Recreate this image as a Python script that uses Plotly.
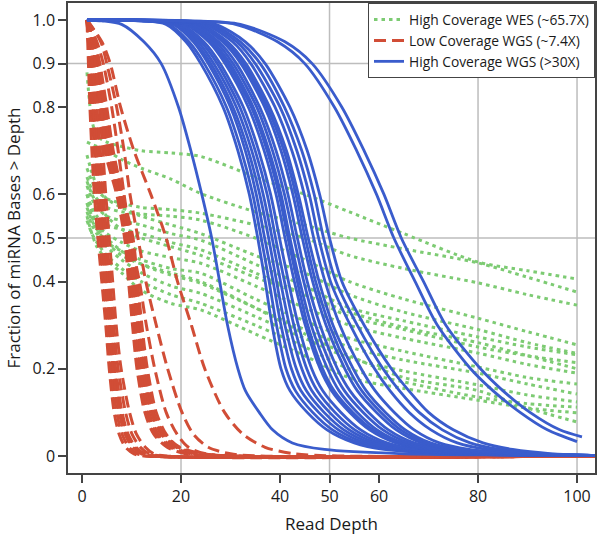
import plotly.graph_objects as go

# ---------------- data ----------------
# High Coverage WES: fraction at fixed read depths
wes_depth = [1, 2, 3, 5, 8, 12, 18, 24, 35, 45, 54, 65, 80, 90, 100]
wes_fraction = [
    [0.88, 0.77, 0.735, 0.72, 0.71, 0.70, 0.695, 0.687, 0.64, 0.60, 0.56, 0.51, 0.445, 0.425, 0.406],
    [0.72, 0.715, 0.71, 0.70, 0.68, 0.66, 0.635, 0.602, 0.56, 0.53, 0.50, 0.475, 0.443, 0.41, 0.376],
    [0.66, 0.63, 0.61, 0.59, 0.58, 0.57, 0.565, 0.557, 0.53, 0.50, 0.46, 0.43, 0.397, 0.37, 0.346],
    [0.64, 0.61, 0.59, 0.57, 0.56, 0.555, 0.55, 0.541, 0.50, 0.45, 0.40, 0.36, 0.316, 0.285, 0.255],
    [0.62, 0.59, 0.57, 0.55, 0.54, 0.53, 0.51, 0.495, 0.44, 0.39, 0.34, 0.31, 0.273, 0.25, 0.232],
    [0.60, 0.57, 0.55, 0.53, 0.52, 0.51, 0.49, 0.473, 0.42, 0.37, 0.32, 0.29, 0.25, 0.23, 0.214],
    [0.58, 0.55, 0.53, 0.51, 0.49, 0.47, 0.455, 0.442, 0.39, 0.34, 0.30, 0.27, 0.236, 0.21, 0.19],
    [0.57, 0.54, 0.52, 0.49, 0.47, 0.45, 0.43, 0.419, 0.36, 0.31, 0.27, 0.24, 0.204, 0.18, 0.165],
    [0.60, 0.56, 0.53, 0.50, 0.47, 0.44, 0.415, 0.396, 0.34, 0.29, 0.25, 0.22, 0.19, 0.165, 0.142],
    [0.56, 0.53, 0.51, 0.48, 0.45, 0.42, 0.39, 0.373, 0.32, 0.27, 0.225, 0.195, 0.163, 0.14, 0.124],
    [0.54, 0.51, 0.49, 0.46, 0.43, 0.40, 0.37, 0.35, 0.30, 0.25, 0.20, 0.17, 0.135, 0.12, 0.112],
    [0.55, 0.51, 0.48, 0.45, 0.42, 0.38, 0.35, 0.335, 0.28, 0.23, 0.18, 0.155, 0.128, 0.11, 0.099],
    [0.58, 0.55, 0.52, 0.49, 0.46, 0.44, 0.42, 0.40, 0.34, 0.28, 0.23, 0.18, 0.15, 0.11, 0.078],
    [0.69, 0.65, 0.62, 0.59, 0.57, 0.55, 0.53, 0.51, 0.46, 0.42, 0.37, 0.33, 0.29, 0.26, 0.235],
    [0.63, 0.60, 0.58, 0.55, 0.52, 0.50, 0.48, 0.46, 0.41, 0.37, 0.33, 0.295, 0.26, 0.23, 0.20],
]

# Low Coverage WGS: read depth at which each curve reaches these fractions
low_levels = [1.0, 0.95, 0.9, 0.8, 0.7, 0.6, 0.5, 0.4, 0.3, 0.2, 0.1, 0.05, 0.02, 0.005, 0.0, 0.0]
low_depths = [
    [1, 1.15, 1.3, 1.6, 2.0, 2.5, 3.2, 4.0, 4.8, 5.5, 6.5, 7.5, 8.8, 10.5, 12.5, 105],
    [1, 1.3, 1.5, 2.0, 2.5, 3.0, 3.7, 4.4, 5.2, 5.9, 7.0, 8.1, 9.5, 11.2, 13.5, 105],
    [1, 1.3, 1.6, 2.2, 2.7, 3.6, 4.3, 5.0, 5.7, 6.5, 7.8, 9.0, 10.5, 12.3, 14.5, 105],
    [1, 1.4, 1.7, 2.3, 2.9, 3.5, 4.1, 4.8, 5.6, 6.3, 7.5, 8.7, 10.2, 12.0, 14.5, 105],
    [1, 1.5, 1.9, 2.7, 3.3, 3.9, 4.6, 5.3, 6.0, 6.8, 8.1, 9.3, 10.9, 12.8, 15.0, 105],
    [1, 1.6, 2.0, 3.0, 3.7, 4.3, 5.0, 5.7, 6.4, 7.3, 8.8, 10.1, 11.8, 13.6, 16.0, 105],
    [1, 1.8, 2.3, 3.5, 4.2, 4.8, 5.5, 6.2, 6.9, 7.9, 9.6, 11.0, 12.8, 14.5, 17.0, 105],
    [1, 2.0, 2.6, 3.6, 4.6, 7.0, 8.6, 9.4, 10.2, 11.1, 12.7, 14.5, 17.2, 21.0, 26.0, 105],
    [1, 2.1, 2.8, 3.9, 5.0, 7.4, 8.9, 9.8, 10.6, 11.5, 13.1, 15.0, 17.8, 22.0, 27.0, 105],
    [1, 2.2, 2.9, 4.1, 5.3, 7.7, 9.2, 10.1, 10.9, 11.9, 13.5, 15.4, 18.3, 22.5, 28.0, 105],
    [1, 2.3, 3.1, 4.4, 5.6, 8.0, 9.6, 10.5, 11.4, 12.4, 14.0, 16.0, 19.0, 23.0, 29.0, 105],
    [1, 2.1, 2.7, 3.8, 5.0, 7.6, 9.4, 10.4, 11.3, 12.3, 14.1, 16.3, 19.3, 24.0, 30.0, 105],
    [1, 2.4, 3.3, 4.6, 5.9, 8.2, 9.9, 10.9, 11.8, 12.8, 14.5, 16.6, 19.8, 24.5, 31.0, 105],
    [1, 2.6, 3.6, 5.0, 6.3, 8.2, 10.3, 11.2, 12.1, 13.2, 15.0, 17.0, 19.5, 23.0, 28.0, 105],
    [1, 3.0, 4.3, 6.0, 7.3, 8.5, 9.8, 11.6, 13.0, 14.7, 17.0, 19.2, 21.5, 25.0, 30.0, 105],
    [1, 3.8, 5.0, 7.0, 8.5, 9.7, 11.3, 12.9, 15.0, 17.3, 20.2, 22.5, 25.5, 30.0, 36.0, 105],
    [1, 4.0, 5.7, 7.8, 10.5, 13.9, 17.0, 19.3, 22.1, 24.8, 28.8, 32.5, 37.0, 43.0, 52.0, 105],
]

# High Coverage WGS: read depth at which each curve reaches these fractions
high_levels = [1.0, 0.998, 0.99, 0.95, 0.9, 0.8, 0.7, 0.6, 0.5, 0.4, 0.3, 0.2,
               0.15, 0.1, 0.06, 0.03, 0.015, 0.005, 0.002, 0.001]
high_depths = [
    [1, 4, 8, 12.5, 16, 19.5, 22, 24.2, 26.2, 27.8, 29.4, 31.5, 33, 35.8, 38.5, 42.5, 49, 65, 90, 105],
    [1, 12, 17, 21, 24, 28.5, 31.5, 33.8, 35.5, 37.0, 38.4, 40.2, 42.0, 45.5, 49.5, 55, 61, 75, 90, 105],
    [1, 12.4, 17.5, 21.6, 24.7, 29.2, 32.2, 34.5, 36.2, 37.8, 39.3, 41.2, 43.1, 46.6, 50.6, 56.1, 62.1, 75.9, 90.5, 105],
    [1, 13, 18.5, 22.5, 25.5, 30, 33, 35.2, 36.9, 38.6, 40.2, 42.3, 44.2, 47.8, 51.8, 57.2, 63.2, 76.8, 91, 105],
    [1, 13.2, 18.5, 22.8, 26, 30.5, 33.6, 35.9, 37.7, 39.3, 41.0, 43.3, 45.3, 48.9, 52.9, 58.3, 64.3, 77.7, 91.5, 105],
    [1, 13.6, 19, 23.4, 26.6, 31.2, 34.3, 36.6, 38.4, 40.1, 41.9, 44.4, 46.4, 50, 54, 59.4, 65.4, 78.6, 92, 105],
    [1, 14, 19.5, 24, 27.3, 31.9, 35, 37.4, 39.1, 40.9, 42.8, 45.4, 47.5, 51.1, 55.1, 60.5, 66.5, 79.5, 92.5, 105],
    [1, 14.4, 20, 24.6, 27.9, 32.6, 35.7, 38.1, 39.9, 41.7, 43.7, 46.4, 48.6, 52.3, 56.3, 61.6, 67.6, 80.4, 93, 105],
    [1, 15, 20.8, 25.6, 28.9, 33.6, 36.8, 39.2, 41, 42.9, 45.1, 48.1, 50.4, 54.1, 58.1, 63.4, 69.4, 81.8, 93.8, 105],
    [1, 15.4, 21.2, 26, 29.4, 34.2, 37.4, 39.8, 41.6, 43.5, 45.6, 48.6, 50.9, 54.7, 58.8, 64.2, 70.2, 82.4, 94.2, 105],
    [1, 15.6, 21.5, 26.4, 29.9, 34.6, 37.8, 40.2, 42, 44, 46.3, 49.6, 51.9, 55.6, 59.6, 64.9, 70.9, 83.1, 94.5, 105],
    [1, 16, 22, 27, 30.5, 35.3, 38.5, 40.9, 42.8, 44.8, 47.2, 50.6, 53, 56.8, 60.8, 66, 72, 84, 95, 105],
    [1, 16.4, 22.5, 27.6, 31.2, 35.9, 39.2, 41.6, 43.5, 45.5, 48.1, 51.6, 54.1, 57.9, 61.9, 67.1, 73.1, 84.9, 95.5, 105],
    [1, 17, 23.2, 28.4, 32.1, 36.9, 40.2, 42.6, 44.5, 46.6, 49.3, 53.1, 55.6, 59.5, 63.5, 68.6, 74.6, 86.2, 96.2, 105],
    [1, 17.3, 23.6, 28.9, 32.6, 37.4, 40.8, 43.2, 45.1, 47.2, 50, 53.9, 56.5, 60.4, 64.4, 69.5, 75.5, 86.9, 96.6, 105],
    [1, 17.6, 24, 29.4, 33.1, 37.9, 41.3, 43.7, 45.7, 47.9, 50.7, 54.8, 57.4, 61.3, 65.3, 70.4, 76.4, 87.6, 97, 105],
    [1, 18.2, 24.8, 30.4, 34.1, 39, 42.4, 44.9, 46.8, 49.1, 52.1, 56.4, 59.2, 63.1, 67.1, 72.2, 78.2, 89, 97.8, 105],
    [1, 18.8, 25.5, 31.2, 35, 40, 43.4, 45.9, 47.8, 50.2, 54.2, 59.1, 62.2, 66.1, 70.5, 75.8, 81.8, 92, 99.5, 105],
    [1, 19.4, 26.2, 32, 36, 40.9, 44.4, 46.9, 48.8, 51.3, 55.6, 60.8, 64.1, 68.1, 72.8, 78.4, 84.4, 93.5, 100.3, 105],
    [1, 20, 27, 33, 37, 42, 45.5, 48, 50, 52.5, 57, 62.5, 66, 70, 75, 81, 87, 95, 101, 105],
]
# two slowest high-coverage samples (end at the last depth measured)
high_late_levels_a = [1.0, 0.998, 0.99, 0.95, 0.9, 0.8, 0.7, 0.6, 0.5, 0.4, 0.3, 0.2, 0.15, 0.1, 0.06, 0.044]
high_late_depths_a = [1, 22, 32, 41, 46.5, 52.5, 57, 61, 64.5, 69, 73.5, 80.5, 85, 90.5, 96.5, 101]
high_late_levels_b = [1.0, 0.998, 0.99, 0.95, 0.9, 0.8, 0.7, 0.6, 0.5, 0.4, 0.3, 0.2, 0.15, 0.1, 0.06, 0.033]
high_late_depths_b = [1, 21, 31, 39.5, 45, 51, 55.5, 59.5, 63, 67.3, 71.8, 78.5, 83, 88.5, 94, 100]

x_tick_values = [0, 20, 40, 50, 60, 80, 100]
y_tick_values = [0, 0.2, 0.4, 0.5, 0.6, 0.8, 0.9, 1.0]
y_tick_labels = ["0", "0.2", "0.4", "0.5", "0.6", "0.8", "0.9", "1.0"]
grid_x = [20, 50, 80, 100]
grid_y = [0.5, 0.9]

series_names = ["High Coverage WES (~65.7X)", "Low Coverage WGS (~7.4X)", "High Coverage WGS (>30X)"]

# ---------------- styling ----------------
GREEN = "#7DCB73"
RED = "#D14D36"
BLUE = "#3A5CCC"
AXC = "#444444"

fig = go.Figure()

for i, ys in enumerate(wes_fraction):
    fig.add_trace(go.Scatter(
        x=wes_depth, y=ys, mode="lines", name=series_names[0], legendgroup="wes",
        showlegend=(i == 0), hoverinfo="skip",
        line=dict(color=GREEN, width=3.0, dash="3.5px,4px", shape="spline", smoothing=0.8)))

for i, xs in enumerate(low_depths):
    fig.add_trace(go.Scatter(
        x=xs, y=low_levels, mode="lines", name=series_names[1], legendgroup="low",
        showlegend=(i == 0), hoverinfo="skip",
        line=dict(color=RED, width=3.0, dash="12px,6px", shape="spline", smoothing=0.8)))

for i, xs in enumerate(high_depths):
    fig.add_trace(go.Scatter(
        x=xs, y=high_levels, mode="lines", name=series_names[2], legendgroup="high",
        showlegend=(i == 0), hoverinfo="skip",
        line=dict(color=BLUE, width=2.8, shape="spline", smoothing=0.8)))

for xs, ys in [(high_late_depths_a, high_late_levels_a), (high_late_depths_b, high_late_levels_b)]:
    fig.add_trace(go.Scatter(
        x=xs, y=ys, mode="lines", name=series_names[2], legendgroup="high",
        showlegend=False, hoverinfo="skip",
        line=dict(color=BLUE, width=2.8, shape="spline", smoothing=0.8)))

shapes = []
for gx in grid_x:
    shapes.append(dict(type="line", xref="x", yref="paper", x0=gx, x1=gx, y0=0, y1=1,
                       line=dict(color="#BDBDBD", width=1.5), layer="below"))
for gy in grid_y:
    shapes.append(dict(type="line", xref="paper", yref="y", x0=0, x1=1, y0=gy, y1=gy,
                       line=dict(color="#BDBDBD", width=1.5), layer="below"))

fig.update_layout(
    width=600, height=536,
    margin=dict(l=68, r=5, t=3, b=63, autoexpand=False),
    plot_bgcolor="white", paper_bgcolor="white",
    font=dict(family="Open Sans, Lato, sans-serif", size=16, color="#1a1a1a"),
    shapes=shapes,
    legend=dict(x=1, y=1, xanchor="right", yanchor="top", bgcolor="white",
                bordercolor=AXC, borderwidth=1, font=dict(size=13.8),
                itemwidth=30, tracegroupgap=0),
    xaxis=dict(range=[-2.83, 103.63], tickmode="array", tickvals=x_tick_values,
               ticks="outside", ticklen=8, tickwidth=1.5, tickcolor=AXC,
               showline=True, mirror=True, linecolor=AXC, linewidth=1.5,
               showgrid=False, zeroline=False, automargin=False,
               title=dict(text="Read Depth", standoff=12, font=dict(size=17))),
    yaxis=dict(range=[-0.039, 1.039], tickmode="array", tickvals=y_tick_values,
               ticktext=y_tick_labels,
               ticks="outside", ticklen=8, tickwidth=1.5, tickcolor=AXC,
               showline=True, mirror=True, linecolor=AXC, linewidth=1.5,
               showgrid=False, zeroline=False, automargin=False,
               title=dict(text="Fraction of miRNA Bases > Depth", standoff=8, font=dict(size=17))),
)

fig.write_html("out.html", config={"displayModeBar": False},
               post_script="document.body.style.margin='0';document.body.style.overflow='hidden';")
